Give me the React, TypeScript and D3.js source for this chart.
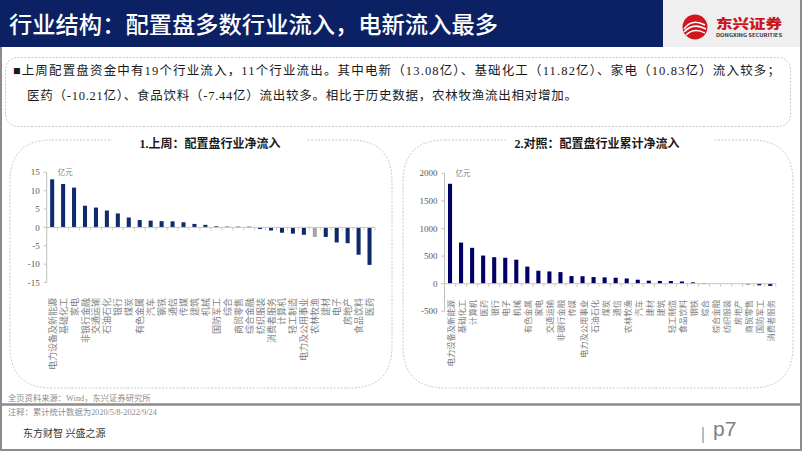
import React from 'react';
import * as d3 from 'd3';

// 上周：配置盘行业净流入（亿元）
const weekCats = ['电力设备及新能源', '基础化工', '家电', '非银行金融', '交通运输', '石油石化', '银行', '煤炭', '有色金属', '汽车', '钢铁', '通信', '传媒', '建筑', '机械', '国防军工', '综合', '商贸零售', '综合金融', '纺织服装', '消费者服务', '计算机', '轻工制造', '电力及公用事业', '农林牧渔', '建材', '电子', '房地产', '食品饮料', '医药'];
const weekValues = [13.08, 11.82, 10.83, 5.9, 5.4, 4.6, 3.8, 2.7, 2.0, 1.85, 1.7, 1.65, 1.4, 0.95, 0.7, 0.3, 0.2, 0.2, 0.2, -0.45, -0.85, -1.45, -1.7, -2.0, -2.6, -2.6, -4.1, -4.3, -7.44, -10.21];
const weekTicks = [-15, -10, -5, 0, 5, 10, 15];

// 对照：配置盘行业累计净流入（亿元）
const cumCats = ['电力设备及新能源', '基础化工', '计算机', '医药', '银行', '电子', '机械', '有色金属', '家电', '交通运输', '非银行金融', '传媒', '电力及公用事业', '石油石化', '煤炭', '通信', '农林牧渔', '汽车', '建材', '建筑', '轻工制造', '食品饮料', '钢铁', '综合', '综合金融', '纺织服装', '房地产', '商贸零售', '国防军工', '消费者服务'];
const cumValues = [1810, 745, 650, 510, 480, 470, 435, 310, 235, 222, 210, 138, 135, 120, 115, 108, 95, 72, 55, 50, 48, 40, 25, 12, 3, 2, 2, -12, -30, -40];
const cumTicks = [-500, 0, 500, 1000, 1500, 2000];

const highlightCat = '农林牧渔';

const serif = '"Liberation Serif", "Noto Sans CJK SC", serif';
const sans = '"Noto Sans CJK SC", "Noto Sans", sans-serif';

interface PanelProps {
  cats: string[];
  values: number[];
  ticks: number[];
  left: number;
  right: number;
  top: number;
  bottom: number;
  labelY: number;
  color: string;
  highlight?: string;
  labelSize: number;
}

const BarPanel: React.FC<PanelProps> = ({ cats, values, ticks, left, right, top, bottom, labelY, color, highlight, labelSize }) => {
  const x = d3.scaleBand<string>().domain(cats).range([left, right]).paddingInner(0.63).paddingOuter(0.315);
  const y = d3.scaleLinear().domain([ticks[0], ticks[ticks.length - 1]]).range([bottom, top]);
  const y0 = y(0);
  const step = x.step();
  return (
    <g>
      {/* y axis */}
      <line x1={left} x2={left} y1={top} y2={bottom} stroke="#bfbfbf" strokeWidth={1} />
      {ticks.map(t => (
        <g key={t}>
          <line x1={left - 3} x2={left} y1={y(t)} y2={y(t)} stroke="#bfbfbf" />
          <text x={left - 7} y={y(t)} dy="0.35em" textAnchor="end" fontFamily={serif} fontSize={9} fill="#595959">{t}</text>
        </g>
      ))}
      {/* bars */}
      {cats.map((c, i) => {
        const v = values[i];
        return (
          <rect key={c} x={x(c)!} width={x.bandwidth()} y={Math.min(y(v), y0)} height={Math.abs(y(v) - y0)}
            fill={c === highlight ? '#a6a6a6' : color} />
        );
      })}
      {/* x axis at zero */}
      <line x1={left} x2={right} y1={y0} y2={y0} stroke="#c8c8c8" strokeWidth={1} />
      {d3.range(cats.length + 1).map(i => (
        <line key={i} x1={left + i * step} x2={left + i * step} y1={y0} y2={y0 + 3} stroke="#d8c9a8" />
      ))}
      {/* category labels */}
      {cats.map(c => (
        <text key={c} transform={`translate(${x(c)! + x.bandwidth() / 2},${labelY}) rotate(-90)`}
          textAnchor="end" dominantBaseline="central" fontFamily={sans} fontSize={labelSize} fill="#7f7f7f">{c}</text>
      ))}
      <text x={left + 11} y={top + 3} fontFamily={sans} fontSize={7.5} fill="#7f7f7f">亿元</text>
    </g>
  );
};

const panelPath = (x0: number, y0: number, x1: number, y1: number, r: number) =>
  `M${x0 + r},${y0} H${x1 - r} Q${x1},${y0} ${x1},${y0 + r} V${y1 - r} Q${x1},${y1} ${x1 - r},${y1} H${x0 + r} Q${x0},${y1} ${x0},${y1 - r} V${y0 + r} Q${x0},${y0} ${x0 + r},${y0} Z`;

export default function App() {
  return (
    <svg width={802} height={451} style={{ position: 'absolute', left: 0, top: 0, background: '#fff' }}>
      {/* header */}
      <rect x={0} y={0} width={663} height={47} fill="#0b2163" />
      <rect x={663} y={0} width={139} height={47} fill="#efefef" />
      <text x={9} y={33} fontFamily={sans} fontWeight={500} fontSize={23} fill="#fff" textLength={489} lengthAdjust="spacingAndGlyphs">行业结构：配置盘多数行业流入，电新流入最多</text>
      {/* logo */}
      <circle cx={695} cy={27} r={12.5} fill="#d2161e" />
      <path d="M684,29 Q692,18 705,25" stroke="#fff" strokeWidth={1.6} fill="none" />
      <path d="M684,32 Q693,22 706,29" stroke="#fff" strokeWidth={1.6} fill="none" />
      <path d="M686,35 Q694,27 705,33" stroke="#fff" strokeWidth={1.4} fill="none" />
      <text x={716} y={28} fontFamily={sans} fontWeight={900} fontSize={13} fill="#c8161d" textLength={66} lengthAdjust="spacingAndGlyphs">东兴证券</text>
      <text x={716} y={37} fontFamily={sans} fontWeight={700} fontSize={4.6} fill="#333" textLength={66} lengthAdjust="spacingAndGlyphs">DONGXING SECURITIES</text>

      {/* frame */}
      <line x1={1} x2={1} y1={47} y2={451} stroke="#8c8c8c" strokeWidth={2} />
      <line x1={801} x2={801} y1={0} y2={451} stroke="#8c8c8c" strokeWidth={2} />
      <line x1={0} x2={802} y1={450} y2={450} stroke="#8c8c8c" strokeWidth={2} />

      {/* summary box */}
      <rect x={5.5} y={57.5} width={785} height={69} rx={12} fill="none" stroke="#c8c8c8" strokeDasharray="2,1.5" />
      <text x={13} y={75} fontFamily={serif} fontSize={12.5} fill="#1a1a1a" textLength={767} lengthAdjust="spacing">■上周配置盘资金中有19个行业流入，11个行业流出。其中电新（13.08亿）、基础化工（11.82亿）、家电（10.83亿）流入较多；</text>
      <text x={27} y={100} fontFamily={serif} fontSize={12.5} fill="#1a1a1a" textLength={550} lengthAdjust="spacing">医药（-10.21亿）、食品饮料（-7.44亿）流出较多。相比于历史数据，农林牧渔流出相对增加。</text>

      {/* panels */}
      <path d={panelPath(10, 140, 392, 388, 42)} fill="none" stroke="#c8c8c8" strokeDasharray="2,1.5" />
      <path d={panelPath(403, 140, 793, 388, 42)} fill="none" stroke="#c8c8c8" strokeDasharray="2,1.5" />
      <rect x={112} y={134} width={195} height={14} fill="#fff" />
      <rect x={506} y={134} width={207} height={14} fill="#fff" />
      <text x={210} y={148} textAnchor="middle" fontFamily={serif} fontWeight={700} fontSize={12} fill="#1a1a1a">1.上周：配置盘行业净流入</text>
      <text x={597} y={148} textAnchor="middle" fontFamily={serif} fontWeight={700} fontSize={12} fill="#1a1a1a">2.对照：配置盘行业累计净流入</text>

      <BarPanel cats={weekCats} values={weekValues} ticks={weekTicks} left={46.7} right={375}
        top={172.3} bottom={282.5} labelY={298} color="#0f2a6b" highlight={highlightCat} labelSize={9} />
      <BarPanel cats={cumCats} values={cumValues} ticks={cumTicks} left={444.5} right={775.8}
        top={173.3} bottom={311.3} labelY={300} color="#000066" labelSize={8.3} />

      {/* footer */}
      <text x={8} y={401} fontFamily={serif} fontSize={8.3} fill="#8c8c8c">全页资料来源：Wind，东兴证券研究所</text>
      <line x1={0} x2={802} y1={404.5} y2={404.5} stroke="#8c8c8c" strokeWidth={2.5} />
      <text x={8} y={415} fontFamily={serif} fontSize={8.3} fill="#8c8c8c">注释：累计统计数据为2020/5/8-2022/9/24</text>
      <text x={23} y={437} fontFamily={serif} fontSize={10} fill="#333">东方财智 兴盛之源</text>
      <line x1={703} x2={703} y1={427} y2={443} stroke="#8c8c8c" strokeWidth={1.2} />
      <text x={713} y={436} fontFamily='"Liberation Sans", sans-serif' fontSize={21} fill="#7f7f7f">p7</text>
    </svg>
  );
}
